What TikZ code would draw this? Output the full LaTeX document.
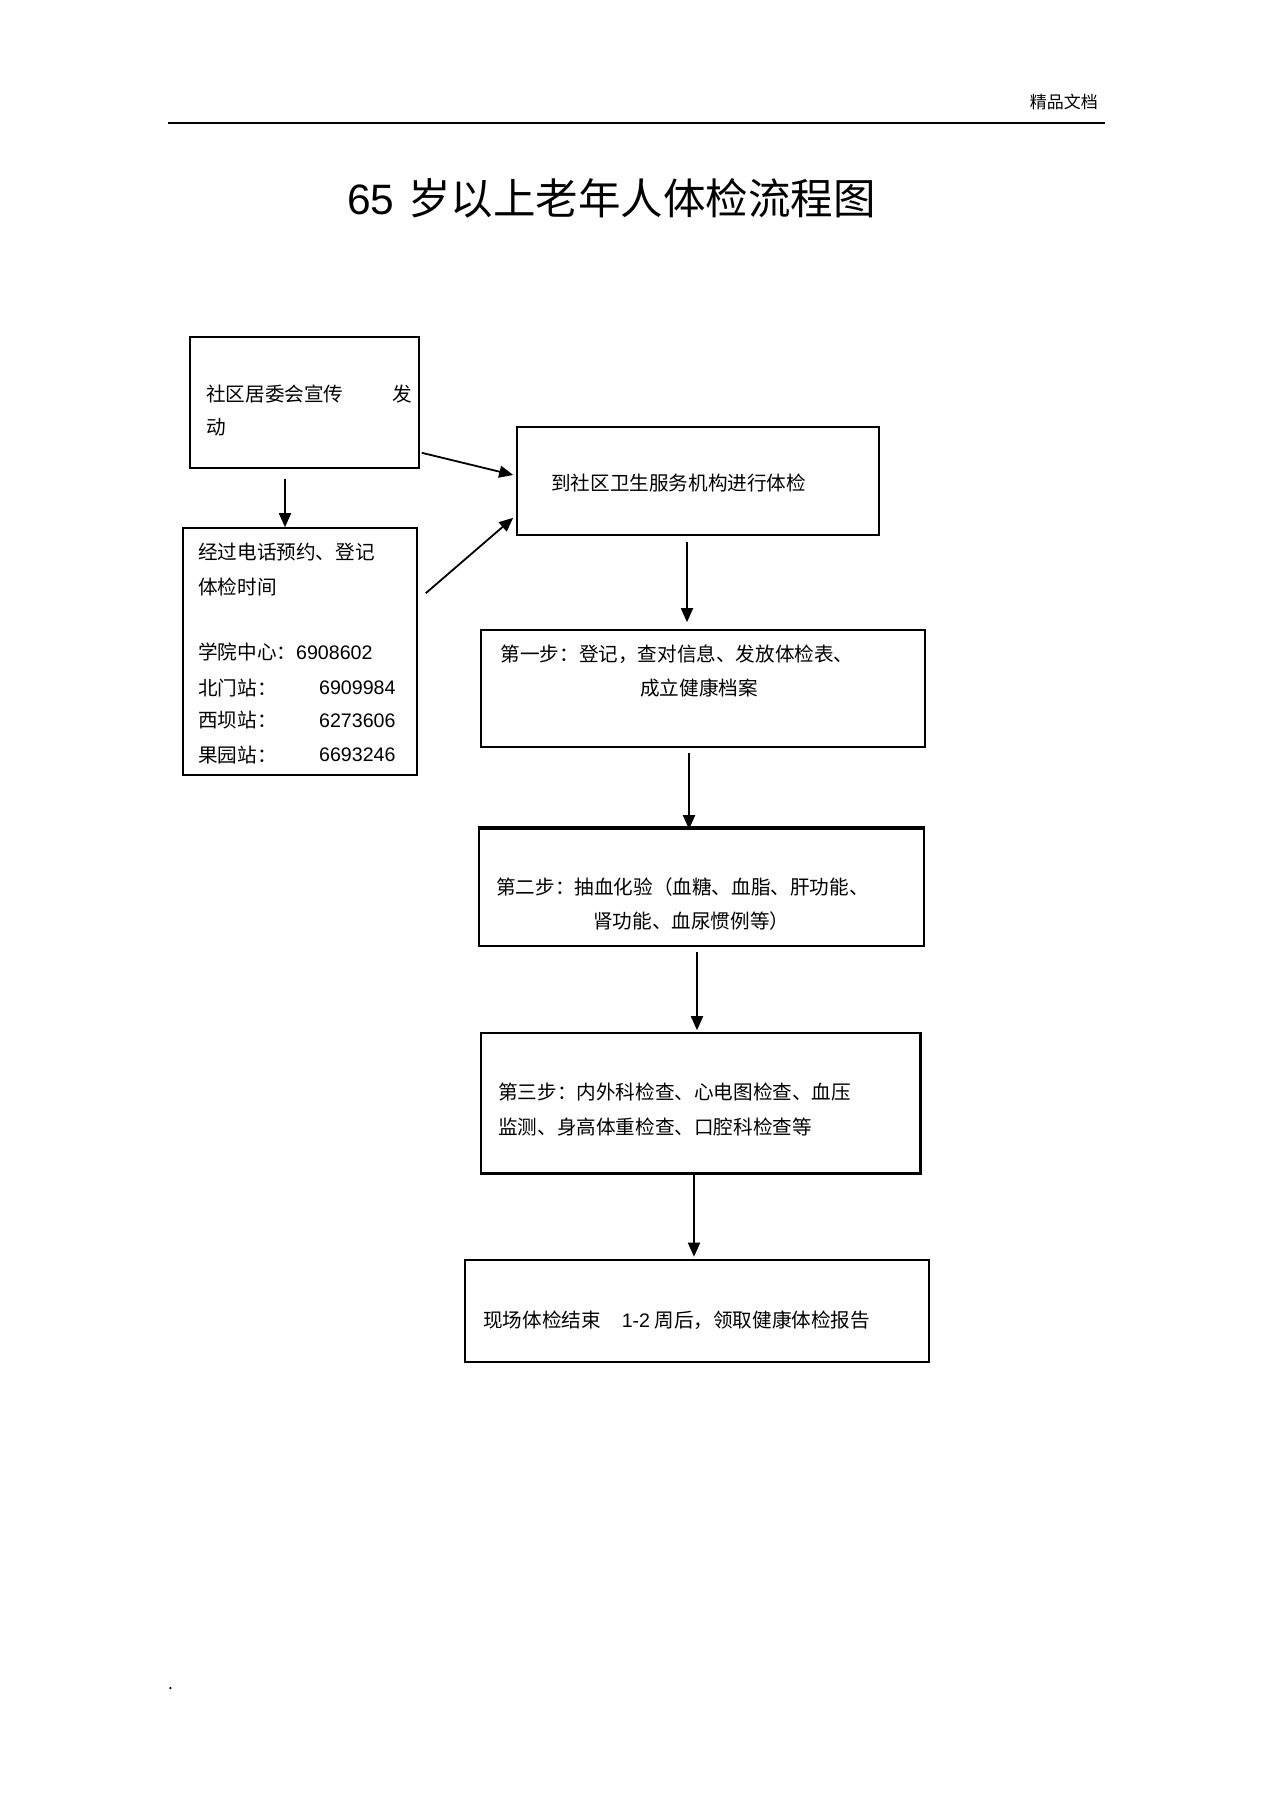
\documentclass[tikz,border=0pt]{standalone}
\usepackage{fontspec}
\setmainfont{Noto Sans CJK SC}
\newfontfamily\arial{Liberation Sans}
\usetikzlibrary{arrows.meta}

\begin{document}
\begin{tikzpicture}[x=1pt, y=-1pt,
    box/.style = {draw, line width=1.6pt, inner sep=0pt},
    txt/.style = {anchor=west, inner sep=0pt, font=\fontsize{19.6}{24}\selectfont},
    arr/.style = {-{Triangle[length=14pt, width=12pt]}, line width=1.8pt}]
  \useasboundingbox (0,0) rectangle (1274,1804);

  % header and title
  \node[anchor=east, inner sep=0pt, font=\fontsize{17}{20}\selectfont] (head) at (1098,102) {精品文档};
  \draw[line width=2.4pt] (168,123) -- (1105,123);
  \node[anchor=west, inner sep=0pt, font=\fontsize{42.5}{48}\selectfont] (title) at (347,198) {{\arial 65}\hspace{14pt}岁以上老年人体检流程图};

  % boxes
  \node[box, minimum width=229pt, minimum height=131pt] (b1) at (304.5,402.5) {};
  \node[box, minimum width=362pt, minimum height=108pt] (b2) at (698,481) {};
  \node[box, minimum width=234pt, minimum height=247pt] (b3) at (300,651.5) {};
  \node[box, minimum width=444pt, minimum height=117pt] (s1) at (703,688.5) {};
  \node[box, minimum width=445pt, minimum height=117pt] (s2) at (701.5,887.5) {};
  \node[box, minimum width=439pt, minimum height=140pt] (s3) at (700.5,1103) {};
  \node[box, line width=2.6pt, minimum width=464pt, minimum height=102pt] (s4) at (697,1311) {};
  \draw[line width=3.6pt] (s2.north west) -- (s2.north east);
  \draw[line width=3pt] (s3.north east) -- (s3.south east) -- (s3.south west);

  % texts
  \node[txt] (t1a) at (206,394) {社区居委会宣传\hspace{49pt}发};
  \node[txt] (t1b) at (206,427) {动};
  \node[txt] (t2) at (551,483) {到社区卫生服务机构进行体检};
  \node[txt] (t3a) at (198,552) {经过电话预约、登记};
  \node[txt] (t3b) at (198,587) {体检时间};
  \node[txt] (t3c) at (198,652) {学院中心：{\arial 6908602}};
  \node[txt] (t3d) at (198,688) {北门站：};
  \node[txt] (n3d) at (319,688) {\arial 6909984};
  \node[txt] (t3e) at (198,720.5) {西坝站：};
  \node[txt] (n3e) at (319,720.5) {\arial 6273606};
  \node[txt] (t3f) at (198,755) {果园站：};
  \node[txt] (n3f) at (319,755) {\arial 6693246};
  \node[txt] (u1a) at (500.5,654) {第一步：登记，查对信息、发放体检表、};
  \node[txt] (u1b) at (640,688) {成立健康档案};
  \node[txt] (u2a) at (496,887) {第二步：抽血化验（血糖、血脂、肝功能、};
  \node[txt] (u2b) at (593,921) {肾功能、血尿惯例等）};
  \node[txt] (u3a) at (498,1092) {第三步：内外科检查、心电图检查、血压};
  \node[txt] (u3b) at (498,1127) {监测、身高体重检查、口腔科检查等};
  \node[txt] (u4) at (483,1320) {现场体检结束\hspace{21pt}{\arial 1-2} 周后，领取健康体检报告};
  \node[txt, font=\fontsize{17}{20}\selectfont] (dot) at (168,1689) {.};

  % connectors
  \path[arr] ([xshift=-19.5pt, yshift=-10pt]b1.south) edge ([xshift=-15pt]b3.north)
             ([xshift=2pt, yshift=16pt]b1.south east) edge ([xshift=-3pt, yshift=6pt]b2.west)
             ([xshift=8pt, yshift=-66pt]b3.north east) edge ([xshift=-3pt, yshift=18pt]b2.south west)
             ([xshift=-11pt, yshift=-6pt]b2.south) edge ([xshift=-16pt, yshift=7pt]s1.north)
             ([xshift=-14pt, yshift=-5pt]s1.south) edge ([xshift=-12.5pt, yshift=-1pt]s2.north)
             ([xshift=-4.5pt, yshift=-5pt]s2.south) edge ([xshift=-3.5pt, yshift=2pt]s3.north)
             ([xshift=-6.5pt]s3.south) edge ([xshift=-3pt, yshift=2pt]s4.north);
\end{tikzpicture}
\end{document}
